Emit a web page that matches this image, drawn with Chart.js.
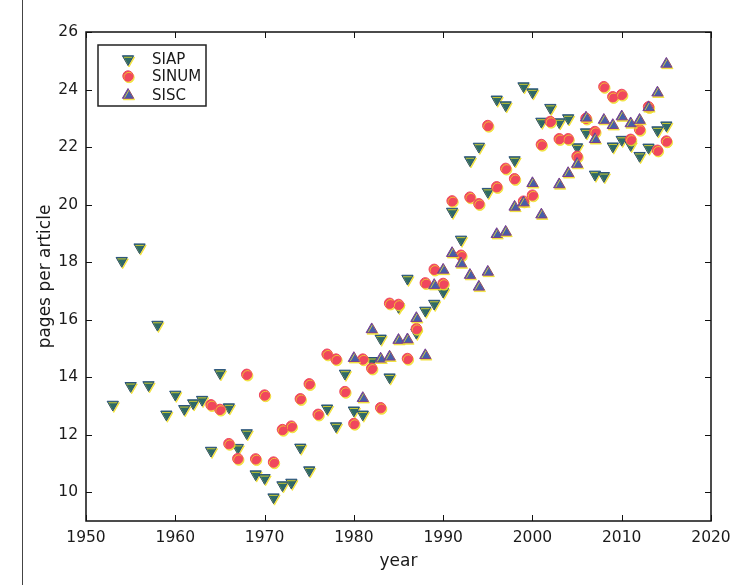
<!DOCTYPE html>
<html>
<head>
<meta charset="utf-8">
<script src="https://cdn.jsdelivr.net/npm/chart.js@4.4.1/dist/chart.umd.min.js"></script>
<style>
  body { margin: 0; background: #fff; }
  #wrap { position: relative; width: 746px; height: 585px; }
  #edge { position: absolute; left: 22px; top: 0; width: 1px; height: 585px; background: #444; }
</style>
</head>
<body>
<div id="wrap">
  <canvas id="chart" width="746" height="585"></canvas>
  <div id="edge"></div>
</div>
<script>
// values, one per year (null = no mark)
const years = [
  1953, 1954, 1955, 1956, 1957, 1958, 1959, 1960, 1961, 1962,
  1963, 1964, 1965, 1966, 1967, 1968, 1969, 1970, 1971, 1972,
  1973, 1974, 1975, 1976, 1977, 1978, 1979, 1980, 1981, 1982,
  1983, 1984, 1985, 1986, 1987, 1988, 1989, 1990, 1991, 1992,
  1993, 1994, 1995, 1996, 1997, 1998, 1999, 2000, 2001, 2002,
  2003, 2004, 2005, 2006, 2007, 2008, 2009, 2010, 2011, 2012,
  2013, 2014, 2015
];

const siap = [
  13.05, 18.05, 13.7, 18.52, 13.73, 15.83, 12.71, 13.4, 12.9, 13.1,
  13.22, 11.45, 14.15, 12.96, 11.55, 12.06, 10.63, 10.5, 9.83, 10.25,
  10.34, 11.56, 10.77, null, 12.92, 12.3, 14.13, 12.85, 12.71, 14.57,
  15.35, 14.0, 16.45, 17.43, 15.55, 16.32, 16.56, 16.98, 19.76, 18.79,
  21.55, 22.02, 20.45, 23.66, 23.46, 21.55, 24.12, 23.91, 22.89, 23.37,
  22.87, 23.01, 22.0, 22.52, 21.05, 21.0, 22.03, 22.26, 22.08, 21.7,
  21.99, 22.59, 22.76
];

const sinum = [
  null, null, null, null, null, null, null, null, null, null,
  null, 13.04, 12.88, 11.69, 11.17, 14.1, 11.16, 13.38, 11.05, 12.18,
  12.3, 13.25, 13.77, 12.71, 14.8, 14.63, 13.5, 12.39, 14.63, 14.31,
  12.94, 16.57, 16.53, 14.65, 15.69, 17.28, 17.75, 17.26, 20.13, 18.24,
  20.26, 20.03, 22.75, 20.62, 21.26, 20.9, 20.12, 20.33, 22.09, 22.89,
  22.29, 22.29, 21.68, 23.0, 22.54, 24.1, 23.75, 23.83, 22.27, 22.61,
  23.4, 21.89, 22.21
];

const sisc = [
  null, null, null, null, null, null, null, null, null, null,
  null, null, null, null, null, null, null, null, null, null,
  null, null, null, null, null, null, null, 14.66, 13.27, 15.66,
  14.64, 14.71, 15.29, 15.31, 16.05, 14.76, 17.2, 17.73, 18.31, 17.95,
  17.55, 17.14, 17.66, 18.97, 19.05, 19.92, 20.07, 20.74, 19.65, null,
  20.7, 21.09, 21.41, 23.02, 22.27, 22.94, 22.76, 23.06, 22.82, 22.94,
  23.38, 23.89, 24.89
];

const seriesNames = ['SIAP', 'SINUM', 'SISC'];
const xTicks = [1950, 1960, 1970, 1980, 1990, 2000, 2010, 2020];
const yTicks = [10, 12, 14, 16, 18, 20, 22, 24, 26];

const FONT = "'DejaVu Sans', sans-serif";
const INK = '#1a1a1a';

function points(vals) {
  const out = [];
  vals.forEach((v, i) => { if (v !== null) out.push({ x: years[i], y: v }); });
  return out;
}

const styles = [
  { pointStyle: 'triangle', rotation: 180, radius: 6.5, fill: '#2e6b66', edge: '#27507a' },
  { pointStyle: 'circle', rotation: 0, radius: 5.2, fill: '#f0475d', edge: '#f0475d' },
  { pointStyle: 'triangle', rotation: 0, radius: 6.5, fill: '#465fa8', edge: '#7b3c8e' }
];

const allSeries = [siap, sinum, sisc];
const datasets = allSeries.map((vals, i) => ({
  label: seriesNames[i],
  data: points(vals),
  order: 3 - i,
  pointStyle: styles[i].pointStyle,
  rotation: styles[i].rotation,
  pointRadius: styles[i].radius,
  pointHoverRadius: styles[i].radius,
  backgroundColor: styles[i].fill,
  borderColor: styles[i].edge,
  borderWidth: 1,
  showLine: false
}));

// scan look: slight yellow offset under every mark
function setShadow(ctx) {
  ctx.shadowColor = 'rgba(240, 222, 40, 0.8)';
  ctx.shadowOffsetX = 1;
  ctx.shadowOffsetY = 1.5;
  ctx.shadowBlur = 0;
}

const framePlugin = {
  id: 'frame',
  beforeDatasetsDraw(chart) {
    chart.ctx.save();
    setShadow(chart.ctx);
  },
  afterDatasetsDraw(chart) {
    const { ctx, chartArea: a, scales: { x, y } } = chart;
    ctx.restore();
    ctx.save();

    // axes box
    ctx.strokeStyle = '#111';
    ctx.lineWidth = 1.5;
    ctx.strokeRect(a.left, a.top, a.right - a.left, a.bottom - a.top);

    // inward ticks on all four sides
    ctx.lineWidth = 1;
    ctx.beginPath();
    x.ticks.forEach(t => {
      const px = Math.round(x.getPixelForValue(t.value)) + 0.5;
      ctx.moveTo(px, a.bottom); ctx.lineTo(px, a.bottom - 6);
      ctx.moveTo(px, a.top); ctx.lineTo(px, a.top + 6);
    });
    y.ticks.forEach(t => {
      const py = Math.round(y.getPixelForValue(t.value)) + 0.5;
      ctx.moveTo(a.left, py); ctx.lineTo(a.left + 6, py);
      ctx.moveTo(a.right, py); ctx.lineTo(a.right - 6, py);
    });
    ctx.stroke();

    // legend in the upper left corner
    const bx = a.left + 12, by = a.top + 13;
    ctx.lineWidth = 1.5;
    ctx.strokeStyle = '#222';
    ctx.strokeRect(bx, by, 108, 61);
    const rows = [14, 31, 50];
    ctx.font = '15px ' + FONT;
    ctx.textBaseline = 'middle';
    ctx.textAlign = 'left';
    seriesNames.forEach((name, i) => {
      const st = styles[i];
      ctx.save();
      setShadow(ctx);
      ctx.fillStyle = st.fill;
      ctx.strokeStyle = st.edge;
      ctx.lineWidth = 1;
      Chart.helpers.drawPoint(ctx, {
        pointStyle: st.pointStyle, rotation: st.rotation, radius: st.radius, borderWidth: 1
      }, bx + 30, by + rows[i]);
      ctx.restore();
      ctx.fillStyle = INK;
      ctx.fillText(name, bx + 54, by + rows[i] + 1);
    });
    ctx.restore();
  }
};

new Chart(document.getElementById('chart'), {
  type: 'scatter',
  data: { datasets: datasets },
  options: {
    responsive: false,
    animation: false,
    events: [],
    layout: { padding: { top: 32, right: 35, left: 0, bottom: 0 } },
    plugins: {
      legend: { display: false },
      tooltip: { enabled: false }
    },
    scales: {
      x: {
        type: 'linear',
        min: 1950,
        max: 2020,
        afterBuildTicks: s => { s.ticks = xTicks.map(v => ({ value: v })); },
        afterFit: s => { s.height = 64; },
        grid: { display: false, drawTicks: false },
        border: { display: false },
        ticks: {
          color: INK,
          padding: 8,
          maxRotation: 0,
          font: { family: FONT, size: 15.5 },
          callback: v => String(v)
        },
        title: {
          display: true,
          text: 'year',
          color: INK,
          font: { family: FONT, size: 17 },
          padding: { bottom: 13 }
        }
      },
      y: {
        type: 'linear',
        min: 9,
        max: 26,
        afterBuildTicks: s => { s.ticks = yTicks.map(v => ({ value: v })); },
        afterFit: s => { s.width = 86; },
        grid: { display: false, drawTicks: false },
        border: { display: false },
        ticks: {
          color: INK,
          padding: 8,
          font: { family: FONT, size: 15.5 },
          callback: v => String(v)
        },
        title: {
          display: true,
          text: 'pages per article',
          color: INK,
          font: { family: FONT, size: 17 },
          padding: { top: 35 }
        }
      }
    }
  },
  plugins: [framePlugin]
});
</script>
</body>
</html>
